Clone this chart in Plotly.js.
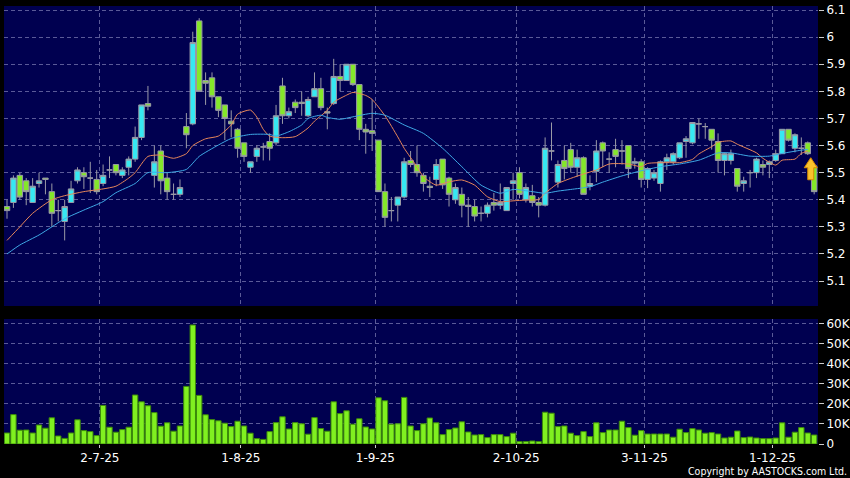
<!DOCTYPE html>
<html>
<head>
<meta charset="utf-8">
<script src="https://cdn.plot.ly/plotly-3.0.1.min.js"></script>
<style>
  html, body { margin: 0; padding: 0; background: #000; }
  #chart { width: 850px; height: 478px; }
</style>
</head>
<body>
<div id="chart"></div>
<script>
// Trading days (HK), 10 Jun 2025 - 9 Dec 2025
const dates = [
  "2025-06-10","2025-06-11","2025-06-12","2025-06-13","2025-06-16","2025-06-17","2025-06-18","2025-06-19","2025-06-20",
  "2025-06-23","2025-06-24","2025-06-25","2025-06-26","2025-06-27","2025-06-30",
  "2025-07-02","2025-07-03","2025-07-04","2025-07-07","2025-07-08","2025-07-09","2025-07-10","2025-07-11",
  "2025-07-14","2025-07-15","2025-07-16","2025-07-17","2025-07-18","2025-07-21","2025-07-22","2025-07-23",
  "2025-07-24","2025-07-25","2025-07-28","2025-07-29","2025-07-30","2025-07-31",
  "2025-08-01","2025-08-04","2025-08-05","2025-08-06","2025-08-07","2025-08-08","2025-08-11","2025-08-12",
  "2025-08-13","2025-08-14","2025-08-15","2025-08-18","2025-08-19","2025-08-20","2025-08-21","2025-08-22",
  "2025-08-25","2025-08-26","2025-08-27","2025-08-28","2025-08-29",
  "2025-09-01","2025-09-02","2025-09-03","2025-09-04","2025-09-05","2025-09-08","2025-09-09","2025-09-10",
  "2025-09-11","2025-09-12","2025-09-15","2025-09-16","2025-09-17","2025-09-18","2025-09-19","2025-09-22",
  "2025-09-23","2025-09-24","2025-09-25","2025-09-26","2025-09-29","2025-09-30",
  "2025-10-02","2025-10-03","2025-10-06","2025-10-08","2025-10-09","2025-10-10","2025-10-13","2025-10-14",
  "2025-10-15","2025-10-16","2025-10-17","2025-10-20","2025-10-21","2025-10-22","2025-10-23","2025-10-24",
  "2025-10-27","2025-10-28","2025-10-30","2025-10-31",
  "2025-11-03","2025-11-04","2025-11-05","2025-11-06","2025-11-07","2025-11-10","2025-11-11","2025-11-12",
  "2025-11-13","2025-11-14","2025-11-17","2025-11-18","2025-11-19","2025-11-20","2025-11-21","2025-11-24",
  "2025-11-25","2025-11-26","2025-11-27","2025-11-28",
  "2025-12-01","2025-12-02","2025-12-03","2025-12-04","2025-12-05","2025-12-08","2025-12-09"
];

const openP = [
  5.375,5.39,5.49,5.47,5.39,5.46,5.48,5.43,5.36,5.32,5.39,5.47,5.50,5.48,5.475,5.46,5.51,5.53,5.49,5.52,
  5.55,5.63,5.755,5.49,5.58,5.48,5.42,5.42,5.67,5.68,6.06,5.84,5.85,5.78,5.75,5.69,5.66,5.61,5.52,5.56,
  5.595,5.615,5.61,5.82,5.71,5.76,5.76,5.71,5.78,5.81,5.725,5.755,5.855,5.84,5.90,5.825,5.66,5.655,5.62,5.43,
  5.36,5.38,5.41,5.545,5.53,5.49,5.45,5.475,5.55,5.48,5.40,5.42,5.38,5.375,5.35,5.35,5.39,5.38,5.36,5.46,
  5.50,5.40,5.415,5.39,5.38,5.58,5.465,5.545,5.585,5.52,5.555,5.45,5.505,5.61,5.55,5.585,5.58,5.60,5.535,5.54,
  5.475,5.48,5.46,5.54,5.54,5.555,5.615,5.61,5.68,5.67,5.66,5.615,5.545,5.545,5.515,5.46,5.50,5.50,5.53,5.53,
  5.545,5.57,5.66,5.59,5.59,5.61,5.525
];
const highP = [
  5.40,5.49,5.50,5.48,5.48,5.50,5.48,5.46,5.40,5.40,5.47,5.52,5.52,5.54,5.51,5.53,5.56,5.53,5.52,5.56,
  5.67,5.75,5.82,5.60,5.60,5.50,5.46,5.475,5.72,6.02,6.07,5.87,5.87,5.78,5.75,5.73,5.665,5.61,5.54,5.60,
  5.61,5.645,5.75,5.85,5.74,5.77,5.80,5.78,5.87,5.85,5.74,5.92,5.90,5.90,5.90,5.825,5.68,5.77,5.62,5.46,
  5.41,5.41,5.555,5.58,5.60,5.50,5.485,5.55,5.55,5.485,5.46,5.445,5.41,5.40,5.375,5.39,5.425,5.46,5.445,5.50,
  5.52,5.46,5.455,5.41,5.63,5.685,5.545,5.60,5.61,5.585,5.56,5.49,5.62,5.615,5.575,5.625,5.62,5.60,5.555,5.55,
  5.52,5.51,5.545,5.57,5.575,5.61,5.635,5.685,5.70,5.683,5.66,5.645,5.575,5.585,5.515,5.485,5.51,5.555,5.545,5.545,
  5.585,5.66,5.66,5.645,5.63,5.615,5.525
];
const lowP = [
  5.33,5.37,5.40,5.38,5.39,5.445,5.42,5.30,5.32,5.25,5.39,5.46,5.44,5.425,5.42,5.45,5.48,5.49,5.48,5.49,
  5.54,5.62,5.73,5.445,5.42,5.40,5.40,5.41,5.59,5.675,5.80,5.75,5.74,5.705,5.62,5.63,5.555,5.54,5.50,5.54,
  5.545,5.545,5.60,5.68,5.70,5.72,5.71,5.705,5.78,5.73,5.66,5.75,5.80,5.84,5.82,5.62,5.57,5.58,5.43,5.30,
  5.32,5.32,5.405,5.52,5.485,5.43,5.41,5.45,5.44,5.375,5.385,5.335,5.30,5.32,5.32,5.335,5.36,5.365,5.36,5.40,
  5.405,5.39,5.375,5.335,5.375,5.545,5.445,5.475,5.50,5.485,5.42,5.435,5.465,5.52,5.50,5.52,5.53,5.48,5.515,5.445,
  5.443,5.47,5.43,5.51,5.53,5.55,5.555,5.605,5.625,5.625,5.585,5.50,5.49,5.53,5.43,5.43,5.445,5.48,5.49,5.48,
  5.54,5.57,5.615,5.575,5.565,5.565,5.42
];
const closeP = [
  5.36,5.48,5.41,5.43,5.45,5.47,5.475,5.35,5.36,5.375,5.44,5.51,5.485,5.48,5.43,5.49,5.51,5.50,5.51,5.55,
  5.63,5.75,5.745,5.54,5.47,5.43,5.42,5.445,5.64,5.98,5.80,5.83,5.78,5.73,5.70,5.68,5.59,5.56,5.54,5.59,
  5.595,5.59,5.71,5.71,5.725,5.74,5.755,5.77,5.81,5.74,5.72,5.855,5.84,5.90,5.825,5.66,5.65,5.645,5.43,5.335,
  5.36,5.41,5.54,5.53,5.50,5.46,5.445,5.53,5.455,5.42,5.445,5.38,5.375,5.34,5.35,5.38,5.38,5.39,5.445,5.47,
  5.42,5.445,5.39,5.38,5.59,5.58,5.53,5.515,5.52,5.555,5.42,5.46,5.58,5.58,5.55,5.56,5.58,5.515,5.54,5.475,
  5.515,5.50,5.54,5.555,5.57,5.61,5.625,5.685,5.68,5.67,5.62,5.545,5.57,5.57,5.45,5.47,5.50,5.55,5.52,5.54,
  5.57,5.66,5.62,5.64,5.59,5.57,5.43
];
const volume = [
  5500,14700,6900,7000,5500,9500,7900,13100,4000,2800,5500,12100,6700,6200,4200,19300,8400,5900,7200,8400,
  24500,21100,19100,15700,8900,10600,6400,9000,28800,59500,24300,14600,12200,11600,10400,8700,11400,9000,5400,2700,
  2300,6200,10700,13600,7500,10700,10100,4900,13200,7700,6400,21100,15200,16600,9900,12600,8500,7500,23100,21600,
  9900,10100,23300,9000,6700,10100,13000,10600,4700,7200,8000,11100,6000,4500,4700,3200,4700,4700,3700,5400,
  1200,1200,1500,1200,15900,15400,8700,9000,5400,4200,6200,3700,10600,5700,7000,7000,11400,8200,4400,6700,
  5000,5000,5000,5000,3400,7400,5700,7700,7000,5400,5700,5000,3000,3400,6500,3200,3500,3000,2700,2700,
  3000,10600,3400,5900,8200,5500,4500
];

// Moving averages (bar index -> value)
const maShortIdx = [0,2,4,7,9,12,15,17,19,20,22,24,26,28,29,31,33,35,36,38,39,40,41,43,45,47,48,50,51,53,54,56,57,59,61,62,64,65,67,69,71,73,75,77,79,81,83,84,86,88,90,92,94,97,99,100,103,105,107,108,110,111,113,114,117,118,120,121,123,124,125];
const maShort =    [5.25,5.30,5.35,5.40,5.415,5.43,5.44,5.45,5.48,5.50,5.56,5.565,5.553,5.57,5.60,5.625,5.635,5.676,5.716,5.731,5.705,5.66,5.635,5.629,5.633,5.665,5.69,5.73,5.76,5.786,5.796,5.785,5.77,5.71,5.632,5.59,5.522,5.485,5.454,5.466,5.473,5.454,5.411,5.393,5.396,5.399,5.401,5.424,5.46,5.479,5.495,5.51,5.532,5.532,5.522,5.534,5.537,5.537,5.549,5.569,5.596,5.612,5.617,5.605,5.573,5.553,5.528,5.546,5.55,5.571,5.58];
const maLongIdx  = [0,2,5,7,9,12,15,17,20,22,25,28,30,33,35,38,41,42,44,46,47,49,50,52,54,57,59,62,65,68,71,74,77,79,82,84,86,88,91,93,96,99,102,105,108,111,113,116,119,121,124,125];
const maLong =     [5.20,5.233,5.27,5.30,5.33,5.362,5.393,5.426,5.46,5.50,5.50,5.512,5.56,5.602,5.626,5.641,5.641,5.635,5.651,5.676,5.70,5.712,5.704,5.697,5.706,5.719,5.712,5.676,5.645,5.59,5.522,5.454,5.424,5.438,5.43,5.424,5.432,5.438,5.448,5.465,5.488,5.507,5.522,5.532,5.546,5.573,5.573,5.561,5.561,5.571,5.583,5.586];

const xTickPos  = [14.5, 36.5, 57.5, 79.5, 99.5, 119.5];
const xTickText = ["2-7-25","1-8-25","1-9-25","2-10-25","3-11-25","1-12-25"];
const priceTicks = [5.1,5.2,5.3,5.4,5.5,5.6,5.7,5.8,5.9,6.0,6.1];
const volTicks = [0,10000,20000,30000,40000,50000,60000];
const volTickText = ["0","10K","20K","30K","40K","50K","60K"];

const FONT = "DejaVu Sans, Verdana, sans-serif";
const GRID = "#5a5a98";

const traces = [
  {
    type: "candlestick", x: dates, open: openP, high: highP, low: lowP, close: closeP,
    xaxis: "x", yaxis: "y",
    increasing: { line: { color: "#9a9aa6", width: 1 }, fillcolor: "#36e8f2" },
    decreasing: { line: { color: "#9a9aa6", width: 1 }, fillcolor: "#84e82a" },
    whiskerwidth: 0, hoverinfo: "skip", showlegend: false
  },
  {
    type: "scatter", mode: "lines", x: maShortIdx.map(i => dates[i]), y: maShort,
    xaxis: "x", yaxis: "y", line: { color: "#e8875a", width: 1, shape: "spline", smoothing: 0.6 },
    hoverinfo: "skip", showlegend: false
  },
  {
    type: "scatter", mode: "lines", x: maLongIdx.map(i => dates[i]), y: maLong,
    xaxis: "x", yaxis: "y", line: { color: "#3fa9e6", width: 1, shape: "spline", smoothing: 0.6 },
    hoverinfo: "skip", showlegend: false
  },
  {
    type: "bar", x: dates, y: volume, xaxis: "x", yaxis: "y2",
    marker: { color: "#80f020", line: { color: "#3c8a0a", width: 1 } },
    hoverinfo: "skip", showlegend: false
  }
];

const layout = {
  width: 850, height: 478,
  paper_bgcolor: "#000000", plot_bgcolor: "#000050",
  margin: { l: 4, r: 32, t: 6, b: 34, pad: 0 },
  font: { family: FONT, size: 12, color: "#ffffff" },
  boxgap: 0.15, boxgroupgap: 0,
  bargap: 0.16,
  showlegend: false,
  xaxis: {
    type: "category", anchor: "y2", domain: [0, 1],
    range: [-0.47, 126.6],
    tickmode: "array", tickvals: xTickPos, ticktext: xTickText,
    ticks: "outside", ticklen: 3, tickcolor: "#cccccc", tickwidth: 1,
    showgrid: true, gridcolor: GRID, griddash: "4px,3px", gridwidth: 1,
    zeroline: false, showline: false,
    tickfont: { family: FONT, size: 12, color: "#ffffff" },
    rangeslider: { visible: false }, fixedrange: true
  },
  yaxis: {
    domain: [0.3151, 1], anchor: "x", side: "right",
    range: [5.008, 6.115],
    tickmode: "array", tickvals: priceTicks,
    ticks: "outside", ticklen: 5, tickcolor: "#cccccc", tickwidth: 1,
    showgrid: true, gridcolor: GRID, griddash: "4px,3px", gridwidth: 1,
    zeroline: false, showline: false,
    tickfont: { family: FONT, size: 12, color: "#ffffff" }, fixedrange: true
  },
  yaxis2: {
    domain: [0, 0.2854], anchor: "x", side: "right",
    range: [0, 62500],
    tickmode: "array", tickvals: volTicks, ticktext: volTickText,
    ticks: "outside", ticklen: 5, tickcolor: "#cccccc", tickwidth: 1,
    showgrid: true, gridcolor: GRID, griddash: "4px,3px", gridwidth: 1,
    zeroline: false, showline: false,
    tickfont: { family: FONT, size: 12, color: "#ffffff" }, fixedrange: true
  },
  shapes: [
    {
      type: "path", xref: "x", yref: "y",
      xsizemode: "pixel", ysizemode: "pixel",
      xanchor: dates[125], yanchor: 5.52,
      path: "M 3,9.5 L 9.5,-0.5 L 6,-0.5 L 6,-12.5 L 0,-12.5 L 0,-0.5 L -3.5,-0.5 Z",
      fillcolor: "#f9c22e", line: { color: "#d88a00", width: 1 }, layer: "above"
    }
  ],
  annotations: [
    {
      xref: "paper", yref: "paper", x: 1.037, y: -0.0776,
      xanchor: "right", yanchor: "bottom", showarrow: false, borderpad: 0,
      text: "Copyright by AASTOCKS.com Ltd.",
      font: { family: "DejaVu Sans Condensed, DejaVu Sans, sans-serif", size: 10.5, color: "#ffffff" }
    }
  ]
};

Plotly.newPlot("chart", traces, layout, { displayModeBar: false, staticPlot: true });
</script>
</body>
</html>
